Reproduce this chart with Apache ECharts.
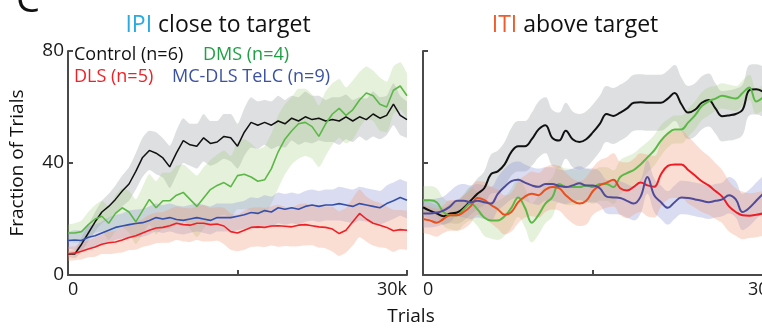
<!DOCTYPE html>
<html>
<head>
<meta charset="utf-8">
<script src="https://cdn.jsdelivr.net/npm/echarts@6/dist/echarts.min.js"></script>
<style>
  html, body { margin: 0; padding: 0; background: #fff; }
  #chart { width: 762px; height: 328px; }
</style>
</head>
<body>
<div id="chart"></div>
<script>
// trial number of each sample (every 600 trials)
const trials = [0, 600, 1200, 1800, 2400, 3000, 3600, 4200, 4800, 5400, 6000, 6600, 7200, 7800, 8400, 9000, 9600, 10200, 10800, 11400,
  12000, 12600, 13200, 13800, 14400, 15000, 15600, 16200, 16800, 17400, 18000, 18600, 19200, 19800, 20400, 21000, 21600, 22200, 22800, 23400,
  24000, 24600, 25200, 25800, 26400, 27000, 27600, 28200, 28800, 29400, 30000];
const xTickLabels = ["0", "30k"];
const yTickLabels = ["0", "40", "80"];

// IPI close to target (left panel), fraction of trials %
const ctrlIPI = [7.5, 7.5, 11, 15, 19, 22.5, 24.5, 27, 30, 32.5, 37, 42, 44.5, 43.5, 41.8, 38.6, 43.6, 48, 46.5, 46,
  49, 47, 47.5, 49.5, 49, 46, 51, 54.5, 53.5, 54.5, 53.5, 55, 54, 56, 55, 56.5, 55.5, 56, 55, 55.5,
  55, 56.5, 55, 56.5, 55.5, 57.5, 56, 57, 61, 57, 55.5];
const ctrlIPIErr = [1, 1.5, 2.5, 3, 3.5, 4, 4.5, 5, 5.5, 6, 6.5, 7, 7, 7.5, 7, 7.5, 8, 8, 7.5, 8,
  8.5, 8, 7.5, 8, 8.5, 8, 8.5, 9, 8.5, 8, 8.5, 9, 8.5, 8, 8.5, 9, 8.5, 8, 7.5, 8,
  8.5, 8, 7.5, 7, 7.5, 8, 7.5, 7, 7.5, 7, 6.5];
const dmsIPI = [15, 15, 15.5, 18, 20, 21, 18.5, 22, 24, 22.5, 19, 23, 27, 24, 26.5, 26.5, 28.5, 29.5, 27, 24.5,
  27.5, 30.5, 32, 33, 31.5, 35.5, 36, 35, 33.5, 34, 38, 44, 48.5, 51.5, 54, 54.5, 53, 49.5, 54, 57.5,
  59.5, 57, 59, 62.5, 65, 64, 61, 60, 66, 67.5, 64];
const dmsIPIErr = [3, 3.5, 4, 4.5, 5, 5.5, 6, 6.5, 7, 7.5, 8, 8.5, 9, 9.5, 10, 10, 10.5, 10, 10.5, 11,
  11, 10.5, 11, 11.5, 11, 12, 12.5, 12, 11.5, 12, 12.5, 13, 12.5, 12, 12.5, 12, 11.5, 11, 11.5, 11,
  10.5, 10, 10.5, 10, 9.5, 9, 9.5, 9, 8.5, 8.5, 8];
const dlsIPI = [7.6, 7.8, 8.5, 9.3, 10, 11, 11.5, 11.8, 12.5, 13.4, 14, 15, 16, 16.8, 17, 17.6, 18.5, 18, 17.8, 18.5,
  18.5, 18, 18.2, 17.5, 15.5, 15, 16, 17, 17.2, 17, 17.5, 17.6, 17.4, 17.2, 17.8, 18, 17.6, 17.2, 17, 16.4,
  14.8, 16, 19, 22, 20, 18.5, 17.8, 17, 15.8, 16.2, 16];
const dlsIPIErr = [2.5, 2.5, 3, 3, 3.5, 3.5, 4, 4, 4.5, 4.5, 5, 5, 5.5, 5.5, 5.5, 6, 6, 6, 6, 6,
  6.5, 6, 6, 6.5, 6.5, 6.5, 7, 7, 7, 7, 7, 7.5, 7, 7, 7.5, 7.5, 7, 7.5, 7.5, 8,
  8, 8, 8.5, 8.5, 8, 8, 8, 7.5, 7.5, 7, 7];
const mcIPI = [12.3, 12.5, 12.3, 13.5, 14, 15, 16, 17, 17.5, 18, 18.4, 18.7, 19.5, 20.5, 20, 20.5, 19.8, 19.5, 20, 20.5,
  20, 19.5, 20.5, 20.5, 20.5, 21, 21.5, 22.3, 22, 23, 22.5, 24, 23.5, 24, 23.5, 24.5, 25, 24.5, 25, 25,
  25.5, 25, 24.5, 25.5, 25, 24.5, 24, 25.5, 26.5, 27.7, 26.7];
const mcIPIErr = [3, 3.5, 3.5, 4, 4, 4, 4.5, 4.5, 4.5, 5, 5, 5, 5, 5, 5, 5, 5, 5, 5, 5,
  5, 5, 5, 5, 5, 5, 5, 5.5, 5.5, 5.5, 5.5, 5.5, 5.5, 5.5, 5.5, 5.5, 5.5, 5.5, 5.5, 5.5,
  6, 6, 6, 6, 6, 6, 6, 6.5, 6.5, 6.5, 6.5];

// ITI above target (right panel)
const ctrlITI = [24.2, 23, 22, 21, 22, 22.3, 24, 26.5, 29, 31, 36, 37, 39.5, 44, 46, 46, 48.5, 52, 53.5, 49,
  48, 51.5, 48.5, 47.5, 48.5, 51, 54, 57.5, 56.8, 58, 59.5, 61.5, 61.7, 61.5, 61.5, 61.5, 63, 65, 61, 58,
  59, 61.5, 62.5, 59.5, 56.7, 57, 57.5, 59, 66, 66.3, 65.5];
const ctrlITIErr = [3, 3, 3, 3, 3.5, 4, 4.5, 5, 5.5, 6, 7, 7.5, 8, 8.5, 9, 9, 9.5, 10, 10, 10,
  10, 10, 10, 10, 10, 10, 10, 10, 10, 10, 10, 10, 10, 10, 10, 10, 10, 10, 9.5, 9.5,
  9.5, 9.5, 9.5, 9, 9, 9, 9, 9, 9, 9, 9];
const dmsITI = [26.7, 26.7, 26, 22.5, 21.3, 21.3, 23.5, 25.5, 23.5, 20.5, 19.5, 19.5, 21, 24, 27.7, 24, 18.7, 21.5, 25.5, 27.7,
  32.5, 31.5, 31.4, 31.4, 32, 31.4, 32.5, 32.5, 31.4, 35, 36.4, 37.5, 39.5, 42, 44.5, 48, 50.5, 52, 52, 54.5,
  57, 60.3, 62, 63, 64, 63.5, 63, 65, 67, 62, 63.4];
const dmsITIErr = [5, 5, 5, 5, 5, 5.5, 5.5, 6, 6, 6.5, 6.5, 7, 7, 7, 7, 7, 7, 7, 7, 7,
  6.5, 6.5, 6.5, 6, 6, 6, 6, 6, 6, 6, 6, 6, 6, 5.5, 5.5, 5.5, 5, 5, 5, 5,
  5, 5, 5, 4.5, 4.5, 4.5, 4.5, 4.5, 4.5, 4.5, 4.5];
const dlsITI = [20, 19.5, 18.7, 20, 21.3, 21.3, 22.5, 24.5, 27.5, 26.8, 25, 23.5, 21.5, 22.5, 26, 28, 29, 28.5, 30.5, 31.4,
  31, 28.5, 26.5, 25.5, 26.5, 30, 32, 33, 34, 31, 30.2, 31.5, 33, 32, 31.5, 36, 39, 39.5, 39.5, 37.5,
  35.5, 33.5, 32, 30, 28, 24.5, 22.5, 21.3, 21.2, 21.5, 22];
const dlsITIErr = [5, 5, 5, 5, 5.5, 5.5, 6, 6, 6, 6.5, 6.5, 7, 7, 7, 7.5, 7.5, 8, 8, 8, 8,
  8, 8, 8, 8, 8.5, 8.5, 9, 9, 9.5, 9.5, 10, 10, 10.5, 11, 11, 11.5, 12, 12, 12, 12,
  11.5, 11, 10.5, 10, 9.5, 9, 8.5, 8.5, 8, 8, 8];
const mcITI = [22, 22, 22.3, 23, 24.5, 26.5, 26.5, 26, 26.5, 26, 25.5, 29, 31.5, 33.5, 34, 33, 32, 31.5, 32.5, 32.5,
  31.8, 31.4, 32, 32.8, 32, 32, 31, 28, 27.7, 27.5, 26.5, 25.5, 28, 35, 28.5, 26, 24, 26, 27.7, 27.5,
  27, 26.5, 26, 26.5, 27, 28.5, 27, 22.5, 24, 26.5, 29];
const mcITIErr = [5, 5, 5, 5, 5.5, 5.5, 6, 6, 6, 6, 6, 6, 6.5, 6.5, 6.5, 6.5, 6.5, 6.5, 6, 6,
  6, 6, 6, 6, 6, 6, 6, 6, 6, 6, 6, 6, 6, 6, 6, 6, 6, 6, 6, 6,
  6, 6, 6, 6, 6, 6.5, 6.5, 6.5, 6.5, 6.5, 6.5];

const FONT = "Open Sans";
const AXIS_COLOR = "#4a4a4a";
const lastIdx = trials.length - 1;

const chart = echarts.init(document.getElementById("chart"), null, { renderer: "canvas" });

function band(name, mean, err, color, axis) {
  const lower = mean.map((v, i) => v - err[i]);
  const width = err.map((e) => 2 * e);
  return [
    {
      type: "line", xAxisIndex: axis, yAxisIndex: axis, stack: name, data: lower,
      showSymbol: false, silent: true, smooth: axis === 1 ? 0.4 : 0.2,
      lineStyle: { opacity: 0 }, z: 1,
    },
    {
      type: "line", xAxisIndex: axis, yAxisIndex: axis, stack: name, data: width,
      showSymbol: false, silent: true, smooth: axis === 1 ? 0.4 : 0.2,
      lineStyle: { opacity: 0 }, areaStyle: { color: color }, z: 1,
    },
  ];
}

function line(mean, color, axis, width) {
  return {
    type: "line", xAxisIndex: axis, yAxisIndex: axis, data: mean,
    showSymbol: false, silent: true, smooth: axis === 1 ? 0.4 : false,
    lineStyle: { color: color, width: width }, z: 5,
  };
}

function xAxisFor(idx, maxAlign) {
  return {
    type: "category", gridIndex: idx, data: trials, boundaryGap: false,
    axisLine: { lineStyle: { color: AXIS_COLOR, width: 2 } },
    axisTick: { inside: true, length: 5, lineStyle: { color: AXIS_COLOR, width: 2 },
      interval: (i) => i % 25 === 0 },
    axisLabel: {
      fontFamily: FONT, fontSize: 18, color: "#1a1a1a", margin: 6,
      interval: (i) => i === 0 || i === lastIdx,
      formatter: (v, i) => (i === 0 ? xTickLabels[0] : xTickLabels[1]),
      alignMinLabel: "left", alignMaxLabel: maxAlign,
    },
    splitLine: { show: false },
  };
}

function yAxisFor(idx, showLabel) {
  return {
    type: "value", gridIndex: idx, min: 0, max: 80, interval: 40,
    axisLine: { show: true, lineStyle: { color: AXIS_COLOR, width: 2 } },
    axisTick: { show: true, inside: true, length: 5, lineStyle: { color: AXIS_COLOR, width: 2 } },
    axisLabel: { show: showLabel, fontFamily: FONT, fontSize: 19, color: "#1a1a1a", margin: 4,
      formatter: (v) => yTickLabels[v / 40] },
    splitLine: { show: false },
  };
}

const option = {
  animation: false,
  backgroundColor: "#ffffff",
  grid: [
    { left: 68, top: 51, width: 339, height: 224, outerBoundsMode: "none" },
    { left: 423, top: 51, width: 340, height: 224, outerBoundsMode: "none" },
  ],
  xAxis: [xAxisFor(0, "right"), xAxisFor(1, "center")],
  yAxis: [yAxisFor(0, true), yAxisFor(1, false)],
  series: [
    ...band("ctrlL", ctrlIPI, ctrlIPIErr, "rgba(160,163,168,0.5)", 0),
    ...band("dmsL", dmsIPI, dmsIPIErr, "rgba(160,205,125,0.4)", 0),
    ...band("mcL", mcIPI, mcIPIErr, "rgba(140,148,214,0.45)", 0),
    ...band("dlsL", dlsIPI, dlsIPIErr, "rgba(243,150,115,0.45)", 0),
    line(ctrlIPI, "#111111", 0, 1.5),
    line(dmsIPI, "#5cb846", 0, 1.6),
    line(dlsIPI, "#ee2127", 0, 1.6),
    line(mcIPI, "#3550a8", 0, 1.6),

    ...band("ctrlR", ctrlITI, ctrlITIErr, "rgba(160,163,168,0.5)", 1),
    ...band("dmsR", dmsITI, dmsITIErr, "rgba(160,205,125,0.4)", 1),
    ...band("mcR", mcITI, mcITIErr, "rgba(140,148,214,0.45)", 1),
    ...band("dlsR", dlsITI, dlsITIErr, "rgba(243,150,115,0.45)", 1),
    line(ctrlITI, "#111111", 1, 2),
    line(dmsITI, "#5cb846", 1, 2),
    line(dlsITI, new echarts.graphic.LinearGradient(0, 0, 1, 0, [
      { offset: 0, color: "#e8501e" }, { offset: 0.55, color: "#e8501e" },
      { offset: 0.6, color: "#ee1c25" }, { offset: 1, color: "#ee1c25" },
    ]), 1, 2),
    line(mcITI, "#4f4b98", 1, 2),
  ],
  graphic: [
    { type: "text", x: 16, y: 1, style: { text: "C", font: "38px " + FONT, fill: "#111", verticalAlign: "middle" } },
    {
      type: "text", x: 218, y: 25,
      style: {
        text: "{a|IPI} close to target", align: "center", verticalAlign: "middle",
        font: "23px " + FONT, fill: "#111",
        rich: { a: { fill: "#29abe2", font: "23px " + FONT } },
      },
    },
    {
      type: "text", x: 575, y: 25,
      style: {
        text: "{a|ITI} above target", align: "center", verticalAlign: "middle",
        font: "23px " + FONT, fill: "#111",
        rich: { a: { fill: "#f15a29", font: "23px " + FONT } },
      },
    },
    { type: "text", x: 74, y: 55, style: { text: "Control (n=6)", font: "18px " + FONT, fill: "#111", verticalAlign: "middle" } },
    { type: "text", x: 203, y: 55, style: { text: "DMS (n=4)", font: "18px " + FONT, fill: "#1fa045", verticalAlign: "middle" } },
    { type: "text", x: 74, y: 77, style: { text: "DLS (n=5)", font: "18px " + FONT, fill: "#ee2127", verticalAlign: "middle" } },
    { type: "text", x: 172, y: 77, style: { text: "MC-DLS TeLC (n=9)", font: "18px " + FONT, fill: "#3b52a4", verticalAlign: "middle" } },
    {
      type: "text", x: 18, y: 163, rotation: Math.PI / 2,
      style: { text: "Fraction of Trials", font: "19px " + FONT, fill: "#111", align: "center", verticalAlign: "middle" },
    },
    { type: "text", x: 411, y: 317, style: { text: "Trials", font: "19px " + FONT, fill: "#111", align: "center", verticalAlign: "middle" } },
  ],
};

chart.setOption(option);
window.addEventListener("resize", () => chart.resize());
</script>
</body>
</html>
